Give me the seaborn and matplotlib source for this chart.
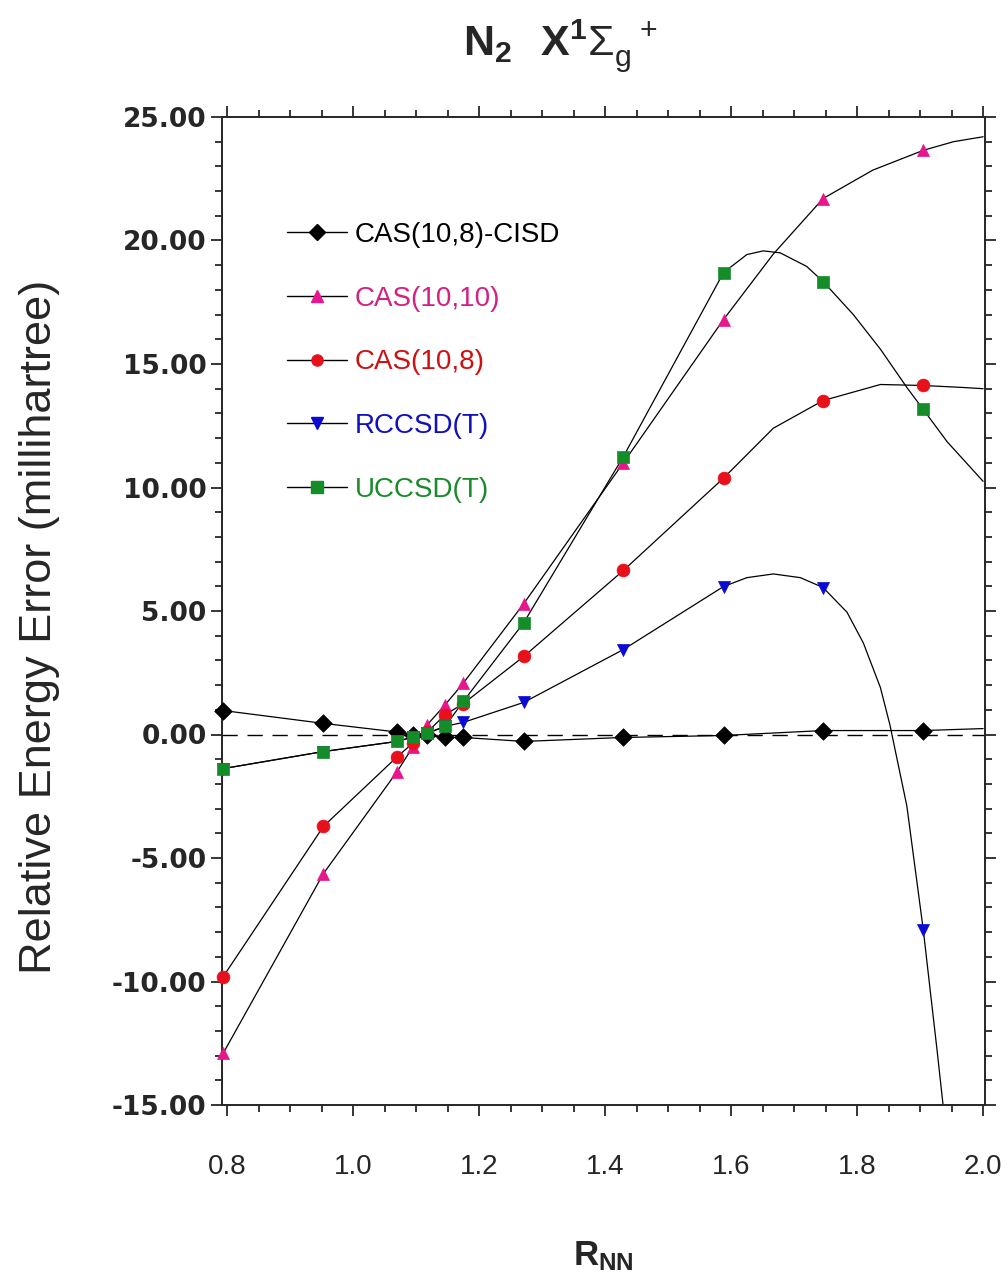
import numpy as np
import matplotlib
matplotlib.use('Agg')
import matplotlib.pyplot as plt
import seaborn as sns
from matplotlib.lines import Line2D
from matplotlib.ticker import MultipleLocator, FormatStrFormatter

sns.set_style('ticks')
plt.rcParams['font.family'] = ['Liberation Sans', 'DejaVu Sans']
plt.rcParams['mathtext.fontset'] = 'custom'
plt.rcParams['mathtext.rm'] = 'Liberation Sans'
plt.rcParams['mathtext.bf'] = 'Liberation Sans:bold'

# Bond lengths of the computed points (Angstrom)
r_nn = [0.794, 0.953, 1.070, 1.095, 1.118, 1.146, 1.175, 1.271, 1.429, 1.588, 1.746, 1.905]

# Relative energy errors (millihartree)
cisd = [0.97, 0.45, 0.10, -0.04, -0.04, -0.12, -0.12, -0.28, -0.12, -0.04, 0.16, 0.16]
cas1010 = [-12.9, -5.63, -1.5, -0.5, 0.4, 1.2, 2.08, 5.3, 11.0, 16.8, 21.7, 23.65]
cas108 = [-9.8, -3.72, -0.9, -0.35, 0.1, 0.8, 1.25, 3.16, 6.64, 10.38, 13.52, 14.13]
rccsd = [-1.38, -0.69, -0.28, -0.1, 0.05, 0.33, 0.49, 1.30, 3.44, 5.99, 5.95, -7.9]
uccsd = [-1.38, -0.69, -0.28, -0.1, 0.05, 0.33, 1.34, 4.53, 11.25, 18.7, 18.34, 13.16]

# extra readings along the fitted curves (between / beyond the points)
cisd_cx, cisd_cy = [2.0], [0.24]
cas1010_cx, cas1010_cy = [1.667, 1.825, 1.953, 2.0], [19.45, 22.85, 24.0, 24.2]
cas108_cx, cas108_cy = [1.667, 1.837, 1.968, 2.0], [12.4, 14.17, 14.05, 14.0]
rccsd_cx = [1.625, 1.667, 1.71, 1.784, 1.81, 1.837, 1.852, 1.879, 1.927, 1.945]
rccsd_cy = [6.35, 6.5, 6.35, 4.95, 3.7, 1.9, 0.4, -2.9, -12.8, -17.0]
uccsd_cx = [1.625, 1.651, 1.678, 1.72, 1.794, 1.837, 1.879, 1.943, 2.0]
uccsd_cy = [19.43, 19.58, 19.5, 18.95, 17.0, 15.6, 14.05, 11.85, 10.25]

labels = ['CAS(10,8)-CISD', 'CAS(10,10)', 'CAS(10,8)', 'RCCSD(T)', 'UCCSD(T)']
colors = ['#000000', '#e8168c', '#e8101a', '#0a0ad0', '#148c28']
text_colors = ['#000000', '#d4207f', '#d01010', '#1010c0', '#1a8a2a']
markers = ['D', '^', 'o', 'v', 's']
msizes = [80, 75, 85, 75, 80]

series = [cisd, cas1010, cas108, rccsd, uccsd]
curves = [(cisd_cx, cisd_cy), (cas1010_cx, cas1010_cy), (cas108_cx, cas108_cy),
          (rccsd_cx, rccsd_cy), (uccsd_cx, uccsd_cy)]

fig = plt.figure(figsize=(10.07, 12.81), dpi=100)
ax = fig.add_axes([222/1007, 1-1105/1281, 763/1007, 988/1281])

ax.axhline(0, color='black', lw=1.0, dashes=(11, 7), zorder=1)

# connecting curves
for vals, (cx, cy) in zip(series, curves):
    xs = np.array(r_nn + cx)
    ys = np.array(vals + cy)
    order = np.argsort(xs)
    sns.lineplot(x=xs[order], y=ys[order], sort=False, estimator=None, color='black',
                 lw=0.9, ax=ax, zorder=2)

# markers (draw order so the hidden ones stay hidden)
for i in [3, 2, 4, 1, 0]:
    sns.scatterplot(x=r_nn, y=series[i], marker=markers[i], s=msizes[i], color=colors[i],
                    edgecolor=colors[i], linewidth=0.5, ax=ax, zorder=3 + i * 0.01, clip_on=False)

ax.set_xlim(0.792, 2.003)
ax.set_ylim(-15, 25)
ax.xaxis.set_major_locator(MultipleLocator(0.2))
ax.xaxis.set_minor_locator(MultipleLocator(0.05))
ax.xaxis.set_major_formatter(FormatStrFormatter('%.1f'))
ax.yaxis.set_major_locator(MultipleLocator(5))
ax.yaxis.set_minor_locator(MultipleLocator(1))
ax.yaxis.set_major_formatter(FormatStrFormatter('%.2f'))

for sp in ax.spines.values():
    sp.set_visible(True)
    sp.set_linewidth(1.4)
ax.tick_params(which='both', direction='out', top=True, right=True, width=1.3)
ax.tick_params(which='major', length=8)
ax.tick_params(which='minor', length=5)
ax.tick_params(axis='x', which='major', pad=27, labelsize=20)
ax.tick_params(axis='y', which='major', pad=3, labelsize=19)
for lab in ax.get_yticklabels():
    lab.set_family('DejaVu Sans')
    lab.set_fontweight('bold')

ax.set_xlabel(r'$\mathbf{R_{NN}}$', fontsize=25)
ax.xaxis.set_label_coords(0.5, -0.136)
ax.set_ylabel('Relative Energy Error (millihartree)', fontsize=32.5)
ax.yaxis.set_label_coords(-0.212, 0.484)

fig.text(0.556, 1 - 46/1281, r'$\mathbf{N_2\ \ X^1}\mathregular{\Sigma_g^{\ \ +}}$', fontsize=31,
         ha='center', va='center')

handles = [Line2D([0], [0], color='black', lw=1.0, marker=m, markersize=8,
                  markerfacecolor=c, markeredgecolor=c) for m, c in zip(markers, colors)]
leg = ax.legend(handles, labels, loc='upper left', bbox_to_anchor=(0.085, 0.894),
                frameon=False, fontsize=20, handlelength=2.15, handletextpad=0.3,
                labelspacing=1.36, borderpad=0, borderaxespad=0)
for t, c in zip(leg.get_texts(), text_colors):
    t.set_color(c)

plt.savefig('out.png', dpi=100)
